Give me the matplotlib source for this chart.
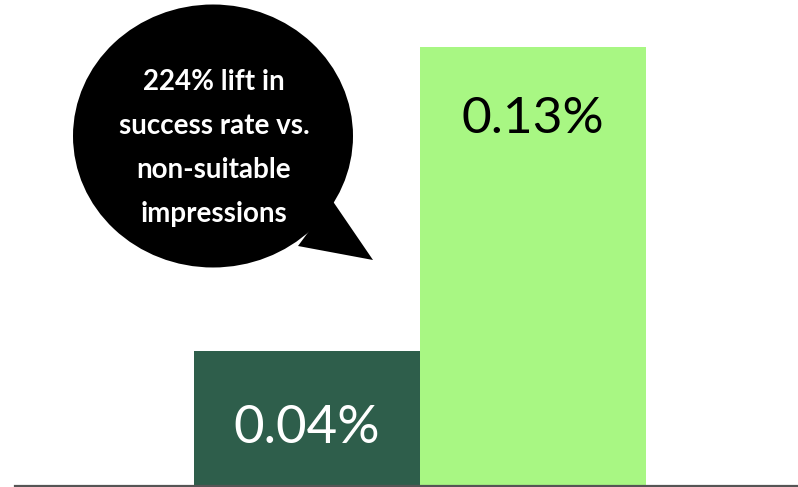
import matplotlib
matplotlib.use("Agg")
import matplotlib.pyplot as plt
from matplotlib.patches import Ellipse, Polygon

categories = ["Non-suitable impressions", "Suitable impressions"]
values = [0.04, 0.13]
labels = ["0.04%", "0.13%"]
bar_colors = ["#2e5e4b", "#a8f783"]
label_colors = ["white", "black"]
callout = "224% lift in\nsuccess rate vs.\nnon-suitable\nimpressions"

W, H = 798, 487
fig = plt.figure(figsize=(W / 100, H / 100), dpi=100)
fig.patch.set_facecolor("white")

def fx(x):
    return x / W

def fy(y):
    return 1 - y / H

ax = fig.add_axes([fx(15), 1.5 / H, 1 - fx(15), (H - 1.5) / H])
x = list(range(len(categories)))
ax.bar(x, values, width=1.0, color=bar_colors, zorder=2)
ax.set_xlim(-1.292, 2.173)
ax.set_ylim(0, 0.13 * 485.5 / 438.5)
for s in ["top", "right", "left"]:
    ax.spines[s].set_visible(False)
ax.spines["bottom"].set_color("#555555")
ax.spines["bottom"].set_linewidth(1.6)
ax.set_xticks([])
ax.set_yticks([])
ax.patch.set_alpha(0)

# value labels
ax.text(0, 0.04 * 0.42, labels[0], ha="center", va="center", color=label_colors[0],
        fontsize=38, fontfamily="Lato", fontweight="normal")
ax.text(1, 0.13 * 0.835, labels[1], ha="center", va="center", color=label_colors[1],
        fontsize=37, fontfamily="Lato", fontweight="normal")

# speech bubble
bubble = Ellipse((fx(213), fy(136)), 280 / W, 263 / H, transform=fig.transFigure,
                 facecolor="black", edgecolor="none", zorder=5)
fig.patches.append(bubble)
tail = Polygon([(fx(332), fy(200)), (fx(373), fy(260)), (fx(298), fy(246))],
               closed=True, transform=fig.transFigure, facecolor="black",
               edgecolor="none", zorder=5)
fig.patches.append(tail)
fig.text(fx(214), fy(148), callout, ha="center", va="center", color="white",
         fontsize=20, fontfamily="Lato", fontweight="bold", linespacing=1.86, zorder=6)

fig.savefig("out.png", dpi=100)
